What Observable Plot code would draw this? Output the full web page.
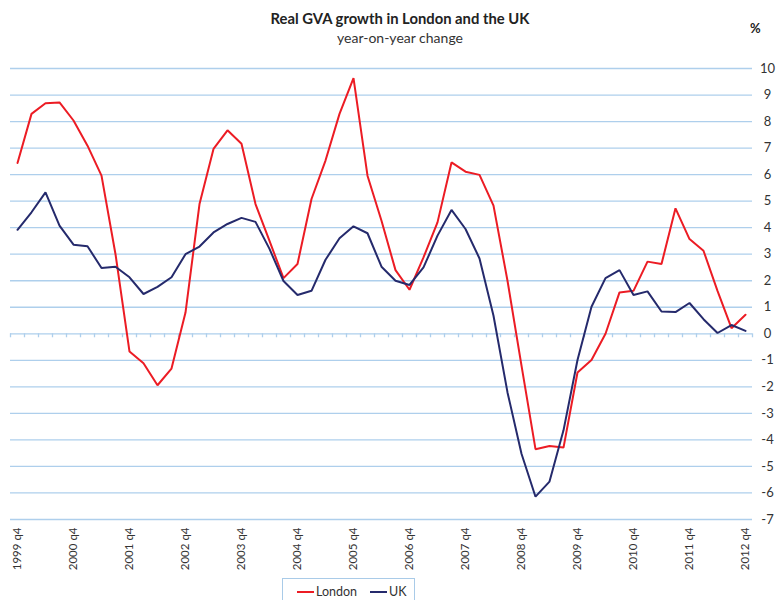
<!DOCTYPE html>
<html>
<head>
<meta charset="utf-8">
<script src="https://cdn.jsdelivr.net/npm/d3@7"></script>
<script src="https://cdn.jsdelivr.net/npm/@observablehq/plot@0.6"></script>
<style>
  html, body { margin: 0; padding: 0; background: #fff; overflow: hidden; }
  body { width: 777px; height: 600px; position: relative; font-family: Lato, "Open Sans", sans-serif; color: #333; }
  #title { position: absolute; left: 0; width: 800px; top: 9px; text-align: center; font-weight: bold; font-size: 14.8px; color: #222; }
  #subtitle { position: absolute; left: 0; width: 800px; top: 29px; text-align: center; font-size: 14px; color: #333; }
  #unit { position: absolute; left: 750px; top: 20px; font-weight: bold; font-size: 13px; color: #222; }
  #chart { position: absolute; left: 0; top: 50px; }
  #legend { position: absolute; left: 282px; top: 578px; width: 133px; height: 30px; border: 1px solid #a9cbe8; box-sizing: border-box; font-size: 12.5px; color: #333; }
  .item { position: absolute; top: 5px; display: flex; align-items: center; }
  .sw { display: inline-block; width: 17px; height: 2px; margin-right: 2px; }
</style>
</head>
<body>
<div id="title">Real GVA growth in London and the UK</div>
<div id="subtitle">year-on-year change</div>
<div id="unit">%</div>
<div id="chart"></div>
<div id="legend"></div>
<script>
const quarters = [
  "1999 q4",
  "2000 q1","2000 q2","2000 q3","2000 q4",
  "2001 q1","2001 q2","2001 q3","2001 q4",
  "2002 q1","2002 q2","2002 q3","2002 q4",
  "2003 q1","2003 q2","2003 q3","2003 q4",
  "2004 q1","2004 q2","2004 q3","2004 q4",
  "2005 q1","2005 q2","2005 q3","2005 q4",
  "2006 q1","2006 q2","2006 q3","2006 q4",
  "2007 q1","2007 q2","2007 q3","2007 q4",
  "2008 q1","2008 q2","2008 q3","2008 q4",
  "2009 q1","2009 q2","2009 q3","2009 q4",
  "2010 q1","2010 q2","2010 q3","2010 q4",
  "2011 q1","2011 q2","2011 q3","2011 q4",
  "2012 q1","2012 q2","2012 q3","2012 q4"
];
const london = [6.44, 8.29, 8.69, 8.72, 8.04, 7.09, 5.96, 3.0, -0.67, -1.11, -1.94, -1.31, 0.80,
  4.89, 6.97, 7.67, 7.16, 4.89, 3.5, 2.10, 2.63, 5.08, 6.53, 8.29, 9.64, 5.96, 4.26, 2.40, 1.66,
  2.88, 4.2, 6.46, 6.11, 5.99, 4.83, 2.0, -1.2, -4.35, -4.23, -4.29, -1.46, -0.99, 0.0, 1.56, 1.62,
  2.72, 2.63, 4.73, 3.57, 3.13, 1.62, 0.21, 0.72];
const uk = [3.92, 4.58, 5.33, 4.08, 3.36, 3.30, 2.48, 2.53, 2.13, 1.50, 1.77, 2.13, 3.0,
  3.29, 3.82, 4.14, 4.37, 4.22, 3.2, 1.99, 1.46, 1.62, 2.79, 3.60, 4.05, 3.79, 2.53, 2.0, 1.84,
  2.5, 3.70, 4.67, 3.95, 2.84, 0.68, -2.21, -4.52, -6.14, -5.57, -3.64, -0.99, 1.02, 2.10, 2.40, 1.46,
  1.60, 0.84, 0.82, 1.16, 0.55, 0.03, 0.33, 0.11];
const xTickLabels = quarters.filter(q => q.endsWith("q4"));
const yTicks = [-7, -6, -5, -4, -3, -2, -1, 0, 1, 2, 3, 4, 5, 6, 7, 8, 9, 10];
const seriesNames = ["London", "UK"];
const seriesColors = ["#ec1c24", "#252a6c"];

const rows = [];
quarters.forEach((q, i) => {
  rows.push({q, series: "London", value: london[i]});
  rows.push({q, series: "UK", value: uk[i]});
});

const gridColor = "#aecfec";

const chart = Plot.plot({
  width: 777,
  height: 528,
  marginTop: 18,
  marginBottom: 59,
  marginLeft: 10,
  marginRight: 25,
  style: {fontFamily: "Lato, 'Open Sans', sans-serif", fontSize: "13px", color: "#333", background: "transparent"},
  x: {type: "point", domain: quarters, padding: 0.5},
  y: {domain: [-7, 10]},
  color: {domain: seriesNames, range: seriesColors},
  marks: [
    Plot.ruleY(yTicks, {stroke: gridColor, strokeWidth: 1.3}),
    Plot.ruleX(quarters, {x: d => d, y1: 0, y2: -0.15, dx: -7, stroke: gridColor, strokeWidth: 1.3}),
    Plot.ruleX(quarters.slice(-1), {x: d => d, y1: 0, y2: -0.15, dx: 7, stroke: gridColor, strokeWidth: 1.3}),
    Plot.line(rows, {x: "q", y: "value", z: "series", stroke: "series", strokeWidth: 2, strokeLinejoin: "miter"}),
    Plot.axisY({ticks: yTicks, anchor: "right", tickSize: 0, tickPadding: 15, textAnchor: "middle", tickFormat: d => String(d), fontSize: 13, label: null}),
    Plot.axisX({ticks: xTickLabels, anchor: "bottom", tickSize: 0, tickPadding: 8, tickRotate: -90, fontSize: 11.5, label: null})
  ]
});
document.getElementById("chart").appendChild(chart);

const legend = document.getElementById("legend");
const positions = [14, 87];
seriesNames.forEach((name, i) => {
  const item = document.createElement("div");
  item.className = "item";
  item.style.left = positions[i] + "px";
  const sw = document.createElement("span");
  sw.className = "sw";
  sw.style.background = seriesColors[i];
  const label = document.createElement("span");
  label.textContent = name;
  item.appendChild(sw);
  item.appendChild(label);
  legend.appendChild(item);
});
</script>
</body>
</html>
